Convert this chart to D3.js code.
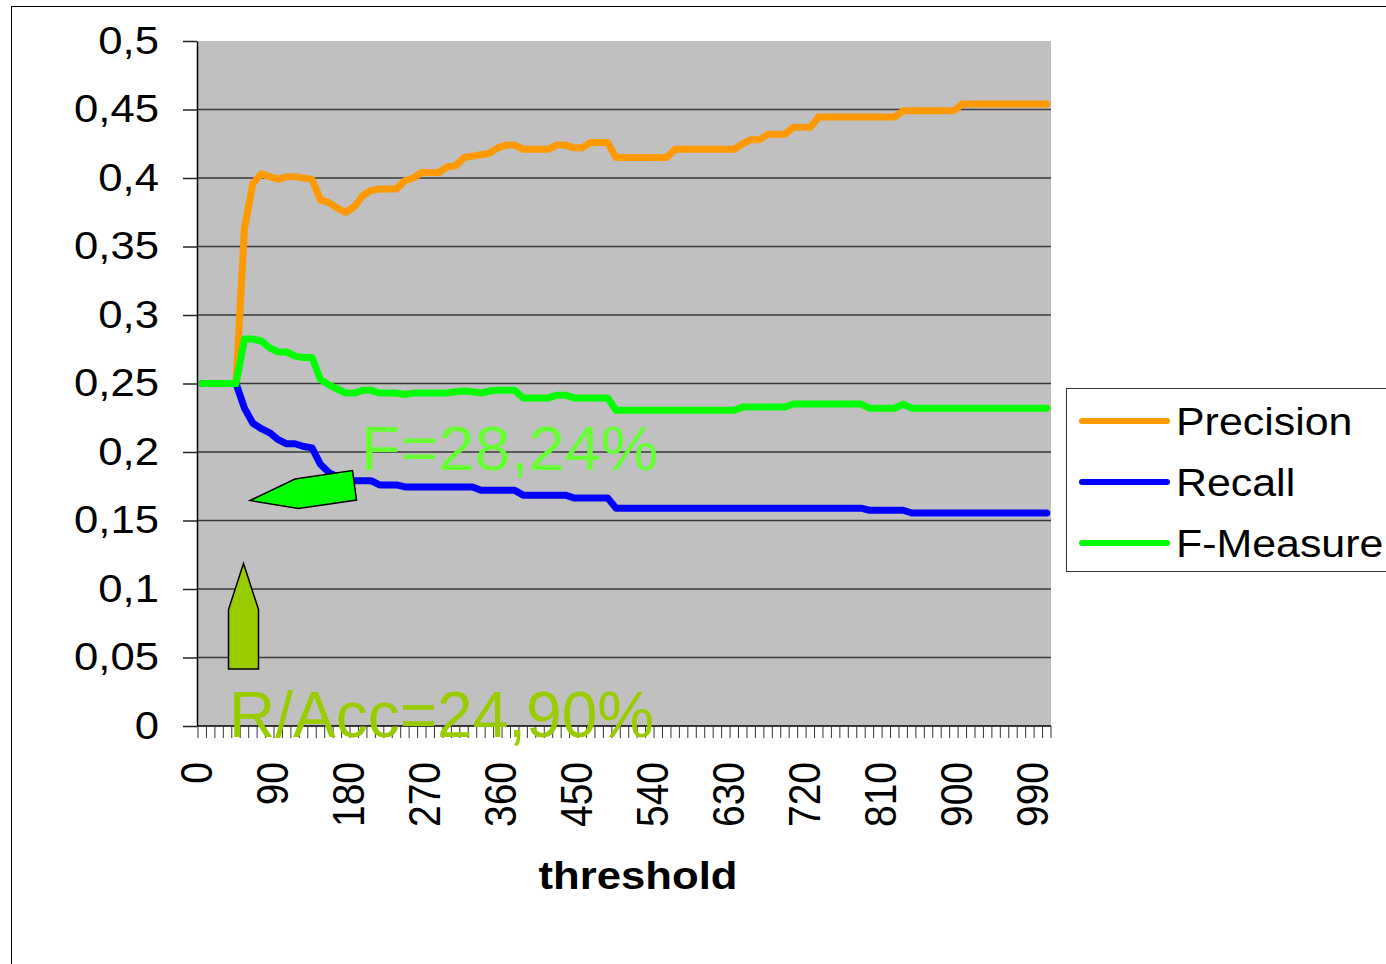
<!DOCTYPE html>
<html>
<head>
<meta charset="utf-8">
<script src="https://cdn.jsdelivr.net/npm/d3@7"></script>
<style>
  body { margin: 0; background: #fff; }
  text { font-family: "Liberation Sans", Arial, sans-serif; }
</style>
</head>
<body>
<div id="chart"></div>
<script>
// categories: threshold 0..1000 in steps of 10
var thresholds = d3.range(0, 1001, 10);
var xTickLabels = [0, 90, 180, 270, 360, 450, 540, 630, 720, 810, 900, 990];
var yTicks = [0, 0.05, 0.1, 0.15, 0.2, 0.25, 0.3, 0.35, 0.4, 0.45, 0.5];
var yTickLabels = ["0", "0,05", "0,1", "0,15", "0,2", "0,25", "0,3", "0,35", "0,4", "0,45", "0,5"];

var precision = [
  0.25, 0.25, 0.25, 0.25, 0.25, 0.363, 0.396, 0.403, 0.401, 0.399,
  0.401, 0.401, 0.400, 0.399, 0.384, 0.382, 0.378, 0.375, 0.379, 0.387,
  0.391, 0.392, 0.392, 0.392, 0.398, 0.400, 0.404, 0.404, 0.404, 0.408,
  0.409, 0.415, 0.416, 0.417, 0.418, 0.422, 0.424, 0.424, 0.421, 0.421,
  0.421, 0.421, 0.424, 0.424, 0.422, 0.422, 0.426, 0.426, 0.426, 0.415,
  0.415, 0.415, 0.415, 0.415, 0.415, 0.415, 0.421, 0.421, 0.421, 0.421,
  0.421, 0.421, 0.421, 0.421, 0.425, 0.428, 0.428, 0.432, 0.432, 0.432,
  0.437, 0.437, 0.437, 0.4445, 0.4445, 0.4445, 0.4445, 0.4445, 0.4445, 0.4445,
  0.4445, 0.4445, 0.4445, 0.449, 0.449, 0.449, 0.449, 0.449, 0.449, 0.449,
  0.454, 0.454, 0.454, 0.454, 0.454, 0.454, 0.454, 0.454, 0.454, 0.454,
  0.454
];
var recall = [
  0.25, 0.25, 0.25, 0.25, 0.25, 0.232, 0.221, 0.217, 0.214, 0.209,
  0.206, 0.206, 0.204, 0.203, 0.191, 0.185, 0.182, 0.180, 0.179, 0.179,
  0.179, 0.176, 0.176, 0.176, 0.1745, 0.1745, 0.1745, 0.1745, 0.1745, 0.1745,
  0.1745, 0.1745, 0.1745, 0.172, 0.172, 0.172, 0.172, 0.172, 0.1685, 0.1685,
  0.1685, 0.1685, 0.1685, 0.1685, 0.1665, 0.1665, 0.1665, 0.1665, 0.1665, 0.159,
  0.159, 0.159, 0.159, 0.159, 0.159, 0.159, 0.159, 0.159, 0.159, 0.159,
  0.159, 0.159, 0.159, 0.159, 0.159, 0.159, 0.159, 0.159, 0.159, 0.159,
  0.159, 0.159, 0.159, 0.159, 0.159, 0.159, 0.159, 0.159, 0.159, 0.1575,
  0.1575, 0.1575, 0.1575, 0.1575, 0.1555, 0.1555, 0.1555, 0.1555, 0.1555, 0.1555,
  0.1555, 0.1555, 0.1555, 0.1555, 0.1555, 0.1555, 0.1555, 0.1555, 0.1555, 0.1555,
  0.1555
];
var fMeasure = [
  0.25, 0.25, 0.25, 0.25, 0.25, 0.2824, 0.2824, 0.281, 0.276, 0.273,
  0.273, 0.270, 0.269, 0.269, 0.253, 0.249, 0.246, 0.243, 0.243, 0.245,
  0.245, 0.243, 0.243, 0.243, 0.242, 0.243, 0.243, 0.243, 0.243, 0.243,
  0.244, 0.2445, 0.244, 0.243, 0.2445, 0.245, 0.245, 0.245, 0.2395, 0.2395,
  0.2395, 0.2395, 0.2415, 0.2415, 0.2395, 0.2395, 0.2395, 0.2395, 0.2395, 0.2305,
  0.2305, 0.2305, 0.2305, 0.2305, 0.2305, 0.2305, 0.2305, 0.2305, 0.2305, 0.2305,
  0.2305, 0.2305, 0.2305, 0.2305, 0.2328, 0.2328, 0.2328, 0.2328, 0.2328, 0.2328,
  0.235, 0.235, 0.235, 0.235, 0.235, 0.235, 0.235, 0.235, 0.235, 0.232,
  0.232, 0.232, 0.232, 0.235, 0.232, 0.232, 0.232, 0.232, 0.232, 0.232,
  0.232, 0.232, 0.232, 0.232, 0.232, 0.232, 0.232, 0.232, 0.232, 0.232,
  0.232
];

var seriesNames = ["Precision", "Recall", "F-Measure"];
var seriesColors = ["#ff9900", "#0000ff", "#00ff00"];
var seriesValues = [precision, recall, fMeasure];

var W = 1386, H = 964;
var plot = {left: 198, right: 1051, top: 41, bottom: 726};
var stretch = 1.12; // text in the picture is slightly wider than normal

var svg = d3.select("#chart")
  .append("svg")
    .attr("width", W)
    .attr("height", H);

// chart frame
svg.append("rect")
  .attr("x", 11.5).attr("y", 6.5)
  .attr("width", 1400).attr("height", 1000)
  .attr("fill", "#fff")
  .attr("stroke", "#000");

var x = d3.scaleBand()
  .domain(thresholds)
  .range([plot.left, plot.right])
  .padding(0);

var y = d3.scaleLinear()
  .domain([0, 0.5])
  .range([plot.bottom, plot.top]);

// plot background
svg.append("rect")
  .attr("x", plot.left).attr("y", plot.top)
  .attr("width", plot.right - plot.left)
  .attr("height", plot.bottom - plot.top)
  .attr("fill", "#c0c0c0");

// horizontal gridlines
svg.append("g")
  .selectAll("line")
  .data(yTicks.filter(function(d) { return d > 0 && d < 0.5; }))
  .enter()
  .append("line")
    .attr("x1", plot.left).attr("x2", plot.right)
    .attr("y1", function(d) { return y(d); })
    .attr("y2", function(d) { return y(d); })
    .attr("stroke", "#3a3a3a")
    .attr("stroke-width", 1.6);

// Y axis
var yAxis = svg.append("g")
  .attr("transform", "translate(197,0)")
  .call(d3.axisLeft(y)
    .tickValues(yTicks)
    .tickFormat(function(d, i) { return yTickLabels[i]; })
    .tickSize(14)
    .tickSizeOuter(0));
yAxis.select(".domain").attr("stroke", "#000").attr("stroke-width", 1.5);
yAxis.selectAll(".tick line").attr("stroke", "#222").attr("stroke-width", 1.5);
yAxis.selectAll(".tick text")
  .attr("x", 0)
  .attr("dy", "0.32em")
  .attr("transform", "translate(-38,0) scale(" + stretch + ",1)")
  .style("font-family", "'Liberation Sans', Arial, sans-serif")
  .style("font-size", "39px")
  .attr("fill", "#000");

// X axis: line + boundary ticks
var xAxisG = svg.append("g");
xAxisG.append("line")
  .attr("x1", 197).attr("x2", plot.right)
  .attr("y1", plot.bottom).attr("y2", plot.bottom)
  .attr("stroke", "#000").attr("stroke-width", 1.5);
xAxisG.selectAll("line.tk")
  .data(thresholds.concat(["end"]))
  .enter()
  .append("line")
    .attr("class", "tk")
    .attr("x1", function(d) { return d === "end" ? plot.right : x(d); })
    .attr("x2", function(d) { return d === "end" ? plot.right : x(d); })
    .attr("y1", plot.bottom).attr("y2", plot.bottom + 12)
    .attr("stroke", "#333").attr("stroke-width", 1);

// X axis labels (rotated)
var xAxis = svg.append("g")
  .attr("transform", "translate(0," + plot.bottom + ")")
  .call(d3.axisBottom(x).tickValues(xTickLabels).tickSize(0));
xAxis.select(".domain").remove();
xAxis.selectAll(".tick text")
  .attr("x", 0).attr("y", 0)
  .attr("dy", "0.22em")
  .attr("text-anchor", "end")
  .attr("transform", "translate(0,36) scale(" + stretch + ",1) rotate(-90)")
  .style("font-family", "'Liberation Sans', Arial, sans-serif")
  .style("font-size", "39px")
  .attr("fill", "#000");

// axis title
svg.append("text")
  .attr("transform", "translate(638,889) scale(" + stretch + ",1)")
  .attr("text-anchor", "middle")
  .style("font-size", "39px")
  .style("font-weight", "bold")
  .text("threshold");

// series lines
var line = d3.line()
  .x(function(d, i) { return x(thresholds[i]) + x.bandwidth() / 2; })
  .y(function(d) { return y(d); });

seriesValues.forEach(function(vals, k) {
  svg.append("path")
    .datum(vals)
    .attr("d", line)
    .attr("fill", "none")
    .attr("stroke", seriesColors[k])
    .attr("stroke-width", 7)
    .attr("stroke-linejoin", "round")
    .attr("stroke-linecap", "round");
});

// annotation arrows
svg.append("polygon")
  .attr("points", "250,500.5 295,479 352.5,470.5 356.5,500 298.5,508.5")
  .attr("fill", "#00ff00")
  .attr("stroke", "#000")
  .attr("stroke-width", 1.5);

svg.append("polygon")
  .attr("points", "243.5,563.5 258.5,609.5 258.5,669 228.5,669 228.5,609.5")
  .attr("fill", "#99cc00")
  .attr("stroke", "#000")
  .attr("stroke-width", 1.5);

// annotation texts
svg.append("text")
  .attr("transform", "translate(361,470) scale(1.03,1)")
  .style("font-size", "63px")
  .attr("fill", "#66ff33")
  .text("F=28,24%");

svg.append("text")
  .attr("transform", "translate(229,737) scale(1.0,1)")
  .style("font-size", "64px")
  .attr("fill", "#99cc00")
  .text("R/Acc=24,90%");

// legend
var legend = svg.append("g");
legend.append("rect")
  .attr("x", 1066.5).attr("y", 388.5)
  .attr("width", 400).attr("height", 183)
  .attr("fill", "#fff")
  .attr("stroke", "#333");

var legendY = [421, 482, 543];
seriesNames.forEach(function(name, k) {
  legend.append("line")
    .attr("x1", 1082).attr("x2", 1167)
    .attr("y1", legendY[k]).attr("y2", legendY[k])
    .attr("stroke", seriesColors[k])
    .attr("stroke-width", 6)
    .attr("stroke-linecap", "round");
  legend.append("text")
    .attr("transform", "translate(1176," + (legendY[k] + 14) + ") scale(1.1,1)")
    .style("font-size", "39px")
    .attr("fill", "#000")
    .text(name);
});
</script>
</body>
</html>
